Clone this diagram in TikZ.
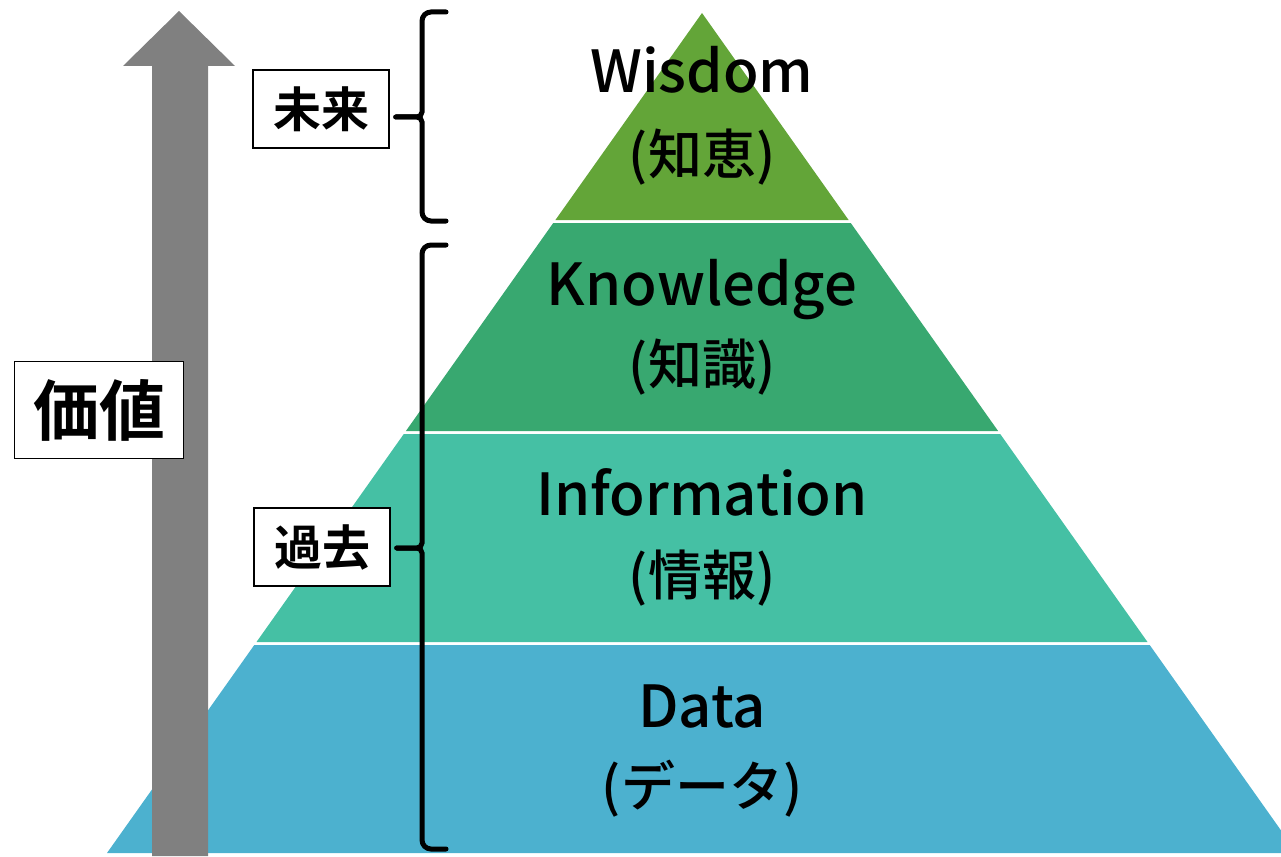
\documentclass[tikz,border=0pt]{standalone}
\usepackage{fontspec}
\setmainfont{Noto Sans CJK JP}
\newfontfamily\medf{Noto Sans CJK JP Medium}
\newfontfamily\boldf{Noto Sans CJK JP Bold}
\definecolor{cwis}{RGB}{99,165,56}
\definecolor{ckno}{RGB}{56,168,112}
\definecolor{cinf}{RGB}{69,192,164}
\definecolor{cdat}{RGB}{76,177,207}
\definecolor{carr}{RGB}{128,128,128}
\tikzset{
  lbl/.style={font=\medf\fontsize{58}{60}\selectfont, anchor=base, inner sep=0pt},
  jlbl/.style={font=\medf\fontsize{54}{58}\selectfont, anchor=center, inner sep=0pt},
  tagbox/.style={draw=black, line width=1.5pt, fill=white, inner sep=0pt},
  brace/.style={draw=black, line width=5pt, line cap=round},
}
\begin{document}
\begin{tikzpicture}[x=1pt,y=-1pt]
\useasboundingbox (0,0) rectangle (1281,856);
\clip (0,0) rectangle (1281,856);
% pyramid layers
\fill[cwis] (702,13) -- (848.6,220) -- (555.4,220) -- cycle;
\fill[ckno] (553.25,223) -- (850.75,223) -- (998.1,431) -- (405.9,431) -- cycle;
\fill[cinf] (403.8,434) -- (1000.2,434) -- (1147.5,642) -- (256.5,642) -- cycle;
\fill[cdat] (254.3,645) -- (1149.7,645) -- (1297,853) -- (107,853) -- cycle;
% value arrow
\fill[carr] (152,856) -- (152,66) -- (123,66) -- (179,11) -- (235,66) -- (208,66) -- (208,856) -- cycle;
% labels
\node[lbl] (w) at (702,93) {Wisdom};
\node[jlbl] (wj) at (702,157) {(知恵)};
\node[lbl] (k) at (702,305) {Knowledge};
\node[jlbl] (kj) at (702,367) {(知識)};
\node[lbl] (i) at (702,515) {Information};
\node[jlbl] (ij) at (702,578) {(情報)};
\node[lbl] (d) at (702,727) {Data};
\node[jlbl] (dj) at (702,789) {(データ)};
% boxes
\node[tagbox, minimum width=169pt, minimum height=97pt, font=\boldf\fontsize{66}{70}\selectfont] (val) at (99,410) {価値};
\node[tagbox, minimum width=136pt, minimum height=78pt, font=\boldf\fontsize{48}{52}\selectfont] (fut) at (321,109) {未来};
\node[tagbox, minimum width=136pt, minimum height=78pt, font=\boldf\fontsize{48}{52}\selectfont] (pst) at (322,547) {過去};
% braces
\coordinate (ft) at (422,117);
\coordinate (pt) at (422,548);
\draw[brace, rounded corners=9pt] (446,12) -- (422,12) [rounded corners=5pt] -- (ft) -- ([xshift=6pt]fut.east |- ft);
\draw[brace, rounded corners=9pt] (446,221) -- (422,221) [rounded corners=5pt] -- (ft) -- ([xshift=6pt]fut.east |- ft);
\draw[brace, rounded corners=9pt] (446,245) -- (422,245) [rounded corners=5pt] -- (pt) -- ([xshift=6pt]pst.east |- pt);
\draw[brace, rounded corners=9pt] (446,849) -- (422,849) [rounded corners=5pt] -- (pt) -- ([xshift=6pt]pst.east |- pt);
\end{tikzpicture}
\end{document}
